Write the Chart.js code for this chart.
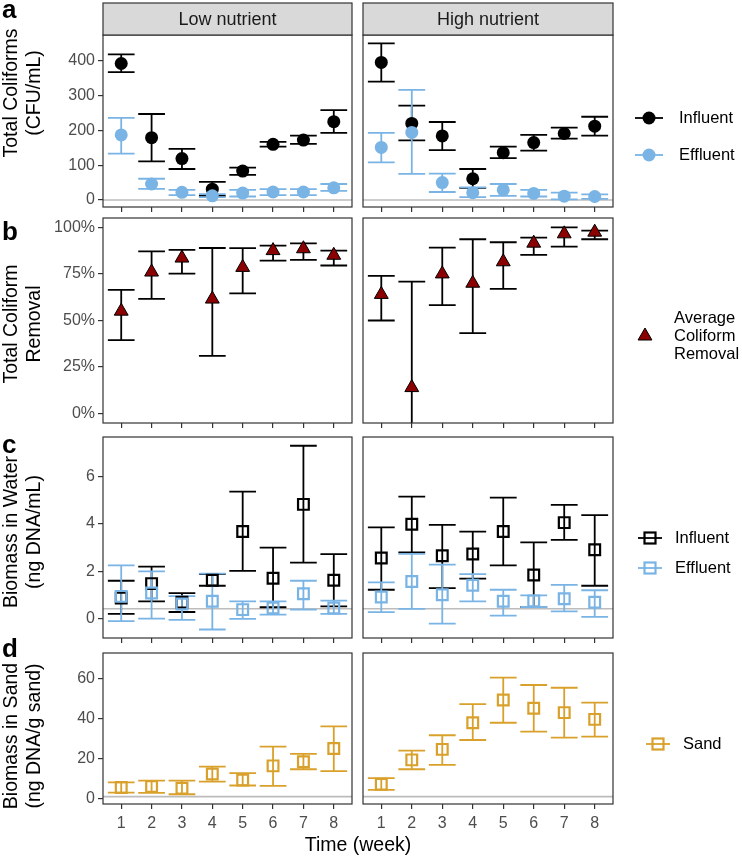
<!DOCTYPE html>
<html>
<head>
<meta charset="utf-8">
<script src="https://cdn.jsdelivr.net/npm/chart.js@4.4.0/dist/chart.umd.min.js"></script>
<style>
  body { margin: 0; background: #fff; }
  #wrap { position: relative; width: 742px; height: 858px; }
  canvas { position: absolute; }
</style>
</head>
<body>
<div id="wrap"></div>
<script>
// ---- data ----
const weeks = [1, 2, 3, 4, 5, 6, 7, 8];

// a: total coliforms (CFU/mL)
const infLowMean  = [392, 179, 119, 31, 83, 160, 172, 225];
const infLowLo    = [367, 111, 89, 12, 72, 153, 161, 193];
const infLowHi    = [418, 247, 147, 52, 93, 167, 185, 258];
const effLowMean  = [187, 46, 22, 12, 20, 23, 23, 35];
const effLowLo    = [133, 32, 14, 8, 10, 14, 14, 26];
const effLowHi    = [236, 61, 29, 17, 29, 31, 31, 46];
const infHighMean = [395, 220, 184, 61, 136, 165, 191, 212];
const infHighLo   = [340, 171, 143, 35, 120, 142, 176, 185];
const infHighHi   = [450, 271, 224, 89, 153, 187, 208, 239];
const effHighMean = [151, 194, 50, 21, 29, 19, 11, 10];
const effHighLo   = [108, 75, 23, 8, 12, 10, 2, 3];
const effHighHi   = [193, 316, 76, 36, 46, 29, 21, 16];

// b: removal (%)
const remLowMean  = [55, 76, 83.5, 61.5, 78.5, 87.5, 88.5, 85];
const remLowLo    = [39.5, 61.6, 75.2, 31, 64.6, 82.1, 82.5, 79.5];
const remLowHi    = [66.4, 87.1, 87.9, 88.9, 88.8, 90.2, 91.4, 87.5];
const remHighMean = [64, 14, 75, 70, 81.5, 91.5, 96.5, 97.4];
const remHighLo   = [50, -8, 58.2, 43.2, 67, 85.2, 89.6, 93.6];
const remHighHi   = [73.9, 70.9, 89.1, 93.6, 92, 94.5, 100, 98.2];

// c: biomass in water (ng DNA/mL)
const bwInfLowMean  = [0.87, 1.48, 0.69, 1.62, 3.68, 1.71, 4.83, 1.62];
const bwInfLowLo    = [0.2, 0.73, 0.28, 1.39, 2.02, 0.48, 2.37, 0.52];
const bwInfLowHi    = [1.6, 2.2, 1.08, 1.88, 5.37, 3.0, 7.31, 2.73];
const bwEffLowMean  = [0.94, 1.08, 0.62, 0.73, 0.38, 0.45, 1.05, 0.45];
const bwEffLowLo    = [-0.11, 0.0, -0.05, -0.46, -0.01, 0.17, 0.38, 0.2];
const bwEffLowHi    = [2.25, 2.0, 0.95, 1.9, 0.73, 0.73, 1.6, 0.76];
const bwInfHighMean = [2.56, 3.99, 2.66, 2.73, 3.68, 1.84, 4.06, 2.91];
const bwInfHighLo   = [1.22, 2.8, 1.29, 1.69, 2.25, 0.49, 3.33, 1.39];
const bwInfHighHi   = [3.86, 5.16, 3.96, 3.68, 5.12, 3.22, 4.81, 4.38];
const bwEffHighMean = [0.91, 1.57, 1.01, 1.41, 0.73, 0.75, 0.84, 0.69];
const bwEffHighLo   = [0.27, 0.41, -0.21, 0.73, 0.13, 0.49, 0.31, 0.07];
const bwEffHighHi   = [1.53, 2.74, 2.28, 1.88, 1.22, 0.98, 1.43, 1.2];

// d: biomass in sand (ng DNA/g sand)
const sandLowMean  = [5.4, 5.9, 5.0, 12.2, 9.2, 16.3, 18.4, 25];
const sandLowLo    = [2.8, 2.7, 2.0, 8.4, 6.4, 6.2, 14.6, 13.6];
const sandLowHi    = [8.0, 8.9, 8.9, 15.9, 12.6, 26.0, 22.3, 36.2];
const sandHighMean = [7.0, 19.3, 24.6, 38, 49.4, 45.3, 43.1, 39.7];
const sandHighLo   = [4.2, 14.6, 16.8, 29.3, 38, 33.5, 30.5, 31];
const sandHighHi   = [10.1, 24, 31.7, 47.4, 60.7, 57, 55.6, 48.1];

// axis ticks and reference lines
const ticksA = [0, 100, 200, 300, 400];
const ticksB = [0, 25, 50, 75, 100];
const ticksC = [0, 2, 4, 6];
const ticksD = [0, 20, 40, 60];
const refA = 0, refC = 0.42, refD = 0.8;

// ---- look ----
const FONT = '"Liberation Sans", Arial, Helvetica, sans-serif';
Chart.defaults.font.family = FONT;
const BLACK = '#000000', BLUE = '#79b4e5', RED = '#8b0000', GOLD = '#d9a12b';

// layout (page pixels)
const COLS = [{ x0: 103, x1: 352, cl: 0, cw: 356 }, { x0: 363, x1: 613, cl: 356, cw: 386 }];
const ROWS = [
  { top: 35, bottom: 207, cTop: 0, cBottom: 214, titleY: 93 },
  { top: 218, bottom: 423, cTop: 214, cBottom: 430, titleY: 324 },
  { top: 437, bottom: 638, cTop: 430, cBottom: 645, titleY: 532 },
  { top: 653, bottom: 804, cTop: 634, cBottom: 858, titleY: 736 }
];

function drawGlyph(ctx, g, x, y) {
  ctx.save();
  if (g.kind === 'circle') {
    ctx.strokeStyle = g.color; ctx.lineWidth = 1.8;
    ctx.beginPath(); ctx.moveTo(x - 14, y); ctx.lineTo(x + 14, y); ctx.stroke();
    ctx.fillStyle = g.color;
    ctx.beginPath(); ctx.arc(x, y, 6.5, 0, Math.PI * 2); ctx.fill();
  } else if (g.kind === 'triangle') {
    const r = 8;
    ctx.fillStyle = RED; ctx.strokeStyle = '#000'; ctx.lineWidth = 1;
    ctx.beginPath();
    ctx.moveTo(x, y - r);
    ctx.lineTo(x + r * Math.sin(2 * Math.PI / 3), y + r / 2);
    ctx.lineTo(x - r * Math.sin(2 * Math.PI / 3), y + r / 2);
    ctx.closePath(); ctx.fill(); ctx.stroke();
  } else {
    ctx.strokeStyle = g.color; ctx.lineWidth = 1.8;
    ctx.beginPath(); ctx.moveTo(x - 12, y); ctx.lineTo(x + 12, y); ctx.stroke();
    ctx.lineWidth = 2.2;
    ctx.strokeRect(x - 5.5, y - 5.5, 11, 11);
  }
  ctx.restore();
}

function panelPlugin(cfg, row, offX, offY) {
  return {
    id: 'panel',
    beforeDatasetsDraw(chart) {
      const { ctx, chartArea: a, scales: { x, y } } = chart;
      ctx.save();
      ctx.beginPath(); ctx.rect(a.left, a.top, a.right - a.left, a.bottom - a.top); ctx.clip();
      if (cfg.ref !== undefined) {
        const yy = y.getPixelForValue(cfg.ref);
        ctx.strokeStyle = '#bcbcbc'; ctx.lineWidth = 1.6;
        ctx.beginPath(); ctx.moveTo(a.left, yy); ctx.lineTo(a.right, yy); ctx.stroke();
      }
      cfg.series.forEach(s => {
        ctx.strokeStyle = s.color; ctx.lineWidth = 1.8;
        weeks.forEach((w, i) => {
          const cx = x.getPixelForValue(w);
          const hw = x.getPixelForValue(w + 0.44) - cx;
          const y1 = y.getPixelForValue(s.lo[i]), y2 = y.getPixelForValue(s.hi[i]);
          ctx.beginPath();
          ctx.moveTo(cx, y1); ctx.lineTo(cx, y2);
          ctx.moveTo(cx - hw, y1); ctx.lineTo(cx + hw, y1);
          ctx.moveTo(cx - hw, y2); ctx.lineTo(cx + hw, y2);
          ctx.stroke();
        });
      });
      ctx.restore();
    },
    afterDraw(chart) {
      const { ctx, chartArea: a } = chart;
      ctx.save();
      ctx.strokeStyle = '#333'; ctx.lineWidth = 1.2;
      ctx.strokeRect(a.left, a.top, a.right - a.left, a.bottom - a.top);
      if (cfg.strip) {
        ctx.fillStyle = '#d9d9d9';
        ctx.fillRect(a.left, a.top - 32, a.right - a.left, 32);
        ctx.strokeRect(a.left, a.top - 32, a.right - a.left, 32);
        ctx.fillStyle = '#1a1a1a'; ctx.font = '18px ' + FONT;
        ctx.textAlign = 'center'; ctx.textBaseline = 'middle';
        ctx.fillText(cfg.strip, (a.left + a.right) / 2, a.top - 15);
      }
      if (cfg.yTitle) {
        ctx.fillStyle = '#000'; ctx.font = '19.5px ' + FONT;
        ctx.textAlign = 'center'; ctx.textBaseline = 'middle';
        cfg.yTitle.forEach((t, k) => {
          ctx.save();
          ctx.translate(11.5 + k * 23 - offX, row.titleY - offY);
          ctx.rotate(-Math.PI / 2);
          ctx.fillText(t, 0, 0);
          ctx.restore();
        });
      }
      if (cfg.letter) {
        ctx.fillStyle = '#000'; ctx.font = 'bold 26px ' + FONT;
        ctx.textAlign = 'left'; ctx.textBaseline = 'alphabetic';
        ctx.fillText(cfg.letter[0], 2 - offX, cfg.letter[1] - offY);
      }
      if (cfg.xTitle) {
        ctx.fillStyle = '#000'; ctx.font = '19.5px ' + FONT;
        ctx.textAlign = 'center'; ctx.textBaseline = 'alphabetic';
        ctx.fillText(cfg.xTitle, 358 - offX, 851 - offY);
      }
      (cfg.legend || []).forEach(g => {
        drawGlyph(ctx, g, g.x - offX, g.y - offY);
        ctx.fillStyle = '#000'; ctx.font = '16.5px ' + FONT;
        ctx.textAlign = 'left'; ctx.textBaseline = 'middle';
        g.text.forEach((t, k) => ctx.fillText(t, g.tx - offX, g.ty - offY + k * 18));
      });
      ctx.restore();
    }
  };
}

// stop tick labels from pulling the plot area in
function noPad(s) { s.paddingTop = 0; s.paddingBottom = 0; s.paddingLeft = 0; s.paddingRight = 0; }

function makePanel(cfg) {
  const col = COLS[cfg.col], row = ROWS[cfg.row];
  const cw = cfg.fullWidth ? 742 : col.cw;
  const ch = row.cBottom - row.cTop;
  const cv = document.createElement('canvas');
  cv.width = cw; cv.height = ch;
  cv.style.left = col.cl + 'px'; cv.style.top = row.cTop + 'px';
  cv.style.width = cw + 'px'; cv.style.height = ch + 'px';
  document.getElementById('wrap').appendChild(cv);

  const isLeft = cfg.col === 0, isBottom = cfg.row === 3;
  const datasets = cfg.series.map((s, k) => ({
    data: weeks.map((w, i) => ({ x: w, y: s.mean[i] })),
    pointStyle: s.style,
    pointRadius: s.radius,
    pointHoverRadius: s.radius,
    backgroundColor: s.fill,
    borderColor: s.stroke,
    pointBorderWidth: s.bw,
    order: cfg.series.length - k
  }));

  new Chart(cv.getContext('2d'), {
    type: 'scatter',
    data: { datasets },
    plugins: [panelPlugin(cfg, row, col.cl, row.cTop)],
    options: {
      responsive: false, animation: false, devicePixelRatio: 1,
      events: [],
      layout: {
        autoPadding: false,
        padding: { left: isLeft ? 0 : col.x0 - col.cl, right: cw - (col.x1 - col.cl), top: row.top - row.cTop, bottom: 0 }
      },
      plugins: { legend: { display: false }, tooltip: { enabled: false } },
      scales: {
        x: {
          type: 'linear', min: 0.4, max: 8.6,
          afterBuildTicks: s => { s.ticks = weeks.map(v => ({ value: v })); },
          afterFit: s => { s.height = row.cBottom - row.bottom; noPad(s); },
          border: { display: false },
          grid: { display: true, drawOnChartArea: false, drawTicks: true, tickLength: 5, color: '#333', lineWidth: 1.2 },
          ticks: { display: isBottom, padding: 5, color: '#4d4d4d', font: { size: 16 }, maxRotation: 0, autoSkip: false }
        },
        y: {
          type: 'linear', display: isLeft, min: cfg.yMin, max: cfg.yMax,
          afterBuildTicks: s => { s.ticks = cfg.yTicks.map(v => ({ value: v })); },
          afterFit: s => { if (isLeft) s.width = col.x0; noPad(s); },
          border: { display: false },
          grid: { display: true, drawOnChartArea: false, drawTicks: true, tickLength: 5, color: '#333', lineWidth: 1.2 },
          ticks: { padding: 3, color: '#4d4d4d', font: { size: 16 }, callback: cfg.yFmt || (v => v) }
        }
      }
    }
  });
}

const circ = c => ({ style: 'circle', radius: 6.5, fill: c, stroke: c, bw: 0 });
const sq = c => ({ style: 'rect', radius: 7.6, fill: 'rgba(0,0,0,0)', stroke: c, bw: 2.2 });
const tri = { style: 'triangle', radius: 8, fill: RED, stroke: '#000', bw: 1 };

// row a
makePanel({ row: 0, col: 0, yMin: -20.1, yMax: 473.8, yTicks: ticksA, ref: refA, strip: 'Low nutrient', letter: ['a', 18],
  yTitle: ['Total Coliforms', '(CFU/mL)'],
  series: [
    { mean: infLowMean, lo: infLowLo, hi: infLowHi, color: BLACK, ...circ(BLACK) },
    { mean: effLowMean, lo: effLowLo, hi: effLowHi, color: BLUE, ...circ(BLUE) }
  ] });
makePanel({ row: 0, col: 1, yMin: -20.1, yMax: 473.8, yTicks: ticksA, ref: refA, strip: 'High nutrient',
  series: [
    { mean: infHighMean, lo: infHighLo, hi: infHighHi, color: BLACK, ...circ(BLACK) },
    { mean: effHighMean, lo: effHighLo, hi: effHighHi, color: BLUE, ...circ(BLUE) }
  ],
  legend: [
    { kind: 'circle', color: BLACK, x: 649, y: 118, tx: 679, ty: 118, text: ['Influent'] },
    { kind: 'circle', color: BLUE, x: 649, y: 155, tx: 679, ty: 155, text: ['Effluent'] }
  ] });

// row b
makePanel({ row: 1, col: 0, yMin: -5, yMax: 105, yTicks: ticksB, yFmt: v => v + '%', letter: ['b', 240],
  yTitle: ['Total Coliform', 'Removal'],
  series: [{ mean: remLowMean, lo: remLowLo, hi: remLowHi, color: BLACK, ...tri }] });
makePanel({ row: 1, col: 1, yMin: -5, yMax: 105, yTicks: ticksB,
  series: [{ mean: remHighMean, lo: remHighLo, hi: remHighHi, color: BLACK, ...tri }],
  legend: [{ kind: 'triangle', x: 645, y: 336, tx: 674, ty: 318, text: ['Average', 'Coliform', 'Removal'] }] });

// row c
makePanel({ row: 2, col: 0, yMin: -0.82, yMax: 7.68, yTicks: ticksC, ref: refC, letter: ['c', 453],
  yTitle: ['Biomass in Water', '(ng DNA/mL)'],
  series: [
    { mean: bwInfLowMean, lo: bwInfLowLo, hi: bwInfLowHi, color: BLACK, ...sq(BLACK) },
    { mean: bwEffLowMean, lo: bwEffLowLo, hi: bwEffLowHi, color: BLUE, ...sq(BLUE) }
  ] });
makePanel({ row: 2, col: 1, yMin: -0.82, yMax: 7.68, yTicks: ticksC, ref: refC,
  series: [
    { mean: bwInfHighMean, lo: bwInfHighLo, hi: bwInfHighHi, color: BLACK, ...sq(BLACK) },
    { mean: bwEffHighMean, lo: bwEffHighLo, hi: bwEffHighHi, color: BLUE, ...sq(BLUE) }
  ],
  legend: [
    { kind: 'square', color: BLACK, x: 650, y: 538, tx: 675, ty: 538, text: ['Influent'] },
    { kind: 'square', color: BLUE, x: 650, y: 568, tx: 675, ty: 568, text: ['Effluent'] }
  ] });

// row d
makePanel({ row: 3, col: 0, fullWidth: true, yMin: -2.9, yMax: 73.1, yTicks: ticksD, ref: refD, letter: ['d', 657],
  yTitle: ['Biomass in Sand', '(ng DNA/g sand)'], xTitle: 'Time (week)',
  series: [{ mean: sandLowMean, lo: sandLowLo, hi: sandLowHi, color: GOLD, ...sq(GOLD) }] });
makePanel({ row: 3, col: 1, yMin: -2.9, yMax: 73.1, yTicks: ticksD, ref: refD,
  series: [{ mean: sandHighMean, lo: sandHighLo, hi: sandHighHi, color: GOLD, ...sq(GOLD) }],
  legend: [{ kind: 'square', color: GOLD, x: 658, y: 744, tx: 683, ty: 744, text: ['Sand'] }] });
</script>
</body>
</html>
